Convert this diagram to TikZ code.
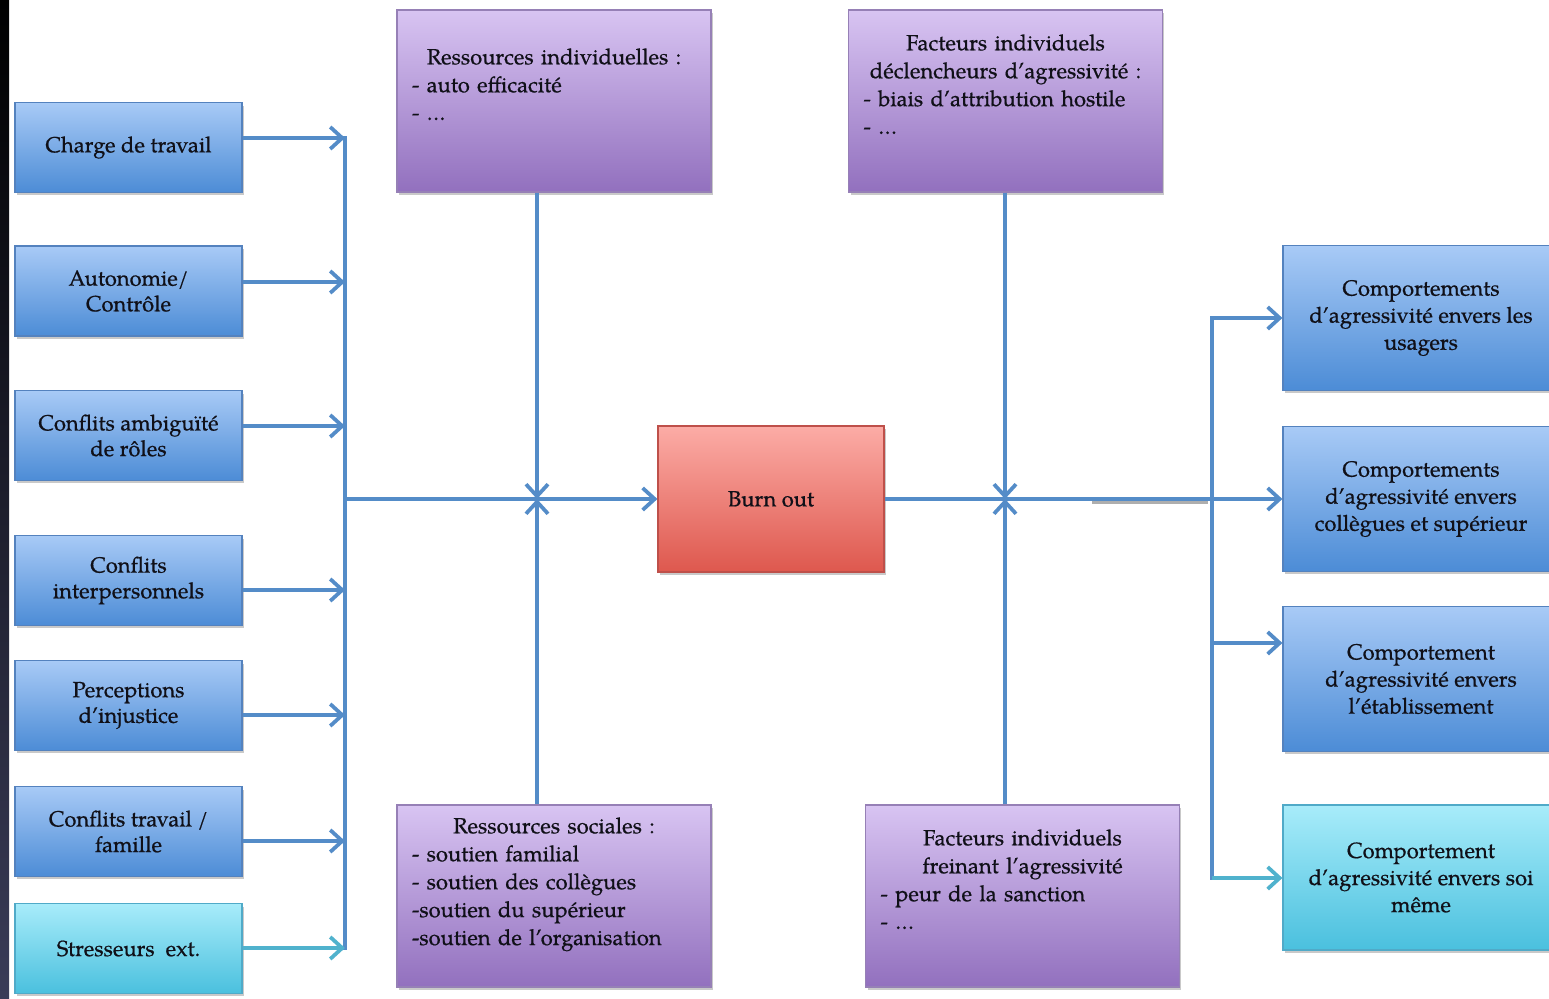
\documentclass[tikz,border=0pt]{standalone}
\usepackage{fontspec}
\setmainfont{TeX Gyre Pagella}[FakeBold=0.6]
\usetikzlibrary{arrows.meta,shadows}
\definecolor{linec}{RGB}{84,140,200}
\definecolor{cyanline}{RGB}{80,178,205}
\definecolor{txt}{RGB}{16,16,24}
\definecolor{bluetop}{RGB}{168,202,246}
\definecolor{bluebot}{RGB}{76,140,214}
\definecolor{bluedraw}{RGB}{84,130,190}
\definecolor{purptop}{RGB}{216,196,242}
\definecolor{purpbot}{RGB}{146,112,190}
\definecolor{purpdraw}{RGB}{150,128,182}
\definecolor{redtop}{RGB}{252,172,166}
\definecolor{redbot}{RGB}{222,88,78}
\definecolor{reddraw}{RGB}{190,80,74}
\definecolor{cyantop}{RGB}{168,236,250}
\definecolor{cyanbot}{RGB}{74,192,222}
\definecolor{cyandraw}{RGB}{80,170,200}
\definecolor{stripbot}{RGB}{58,60,88}
\tikzset{
  basebox/.style={rectangle, inner sep=0pt, align=center, text=txt, line width=0.7pt,
    drop shadow={shadow xshift=0.04cm, shadow yshift=-0.06cm, opacity=0.35, fill=black!60}},
  bluebox/.style={basebox, draw=bluedraw, top color=bluetop, bottom color=bluebot},
  cyanbox/.style={basebox, draw=cyandraw, top color=cyantop, bottom color=cyanbot},
  purplebox/.style={basebox, draw=purpdraw, top color=purptop, bottom color=purpbot},
  redbox/.style={basebox, draw=reddraw, top color=redtop, bottom color=redbot},
  leftbox/.style={minimum width=4.54cm, minimum height=1.8cm, font=\fontsize{12.5}{14.6}\selectfont},
  rightbox/.style={minimum width=5.52cm, minimum height=2.9cm, font=\fontsize{12.5}{15.4}\selectfont},
  pbox/.style={purplebox, minimum width=6.28cm, minimum height=3.64cm},
  ptext/.style={text width=5.68cm, align=left, inner sep=0pt, anchor=north, text=txt,
    font=\fontsize{12.5}{15.9}\selectfont},
  busline/.style={draw=linec, line width=0.08cm, line cap=rect},
  conn/.style={draw=linec, line width=0.08cm,
    -{Straight Barb[length=0.24cm, width=0.44cm, line width=0.075cm]}},
  cconn/.style={conn, draw=cyanline}
}
\begin{document}
\begin{tikzpicture}[x=0.02cm, y=-0.02cm]
\useasboundingbox (0,0) rectangle (1549,999);
\clip (0,0) rectangle (1549,999);
\fill[white] (0,0) rectangle (1549,999);
\shade[top color=black, bottom color=stripbot] (0,0) rectangle (9,999);

% left boxes
\node[bluebox, leftbox] (L1) at (128.5,147.5) {Charge de travail};
\node[bluebox, leftbox] (L2) at (128.5,291) {Autonomie/\\Contrôle};
\node[bluebox, leftbox] (L3) at (128.5,435.5) {Conflits ambiguïté\\de rôles};
\node[bluebox, leftbox] (L4) at (128.5,580.5) {Conflits\\interpersonnels};
\node[bluebox, leftbox] (L5) at (128.5,705.5) {Perceptions\\d’injustice};
\node[bluebox, leftbox] (L6) at (128.5,831.5) {Conflits travail /\\famille};
\node[cyanbox, leftbox] (L7) at (128.5,948.5) {Stresseurs~ ext.};

% purple boxes
\node[pbox] (P1) at (554,101) {};
\node[ptext] (P1t) at (554,48) {\makebox[5.68cm]{Ressources individuelles :}\\- auto efficacité\\- …};
\node[pbox] (P2) at (1005.5,101) {};
\node[ptext] (P2t) at (1005.5,34) {\makebox[5.68cm]{Facteurs individuels}\\\makebox[5.68cm]{déclencheurs d’agressivité :}\\- biais d’attribution hostile\\- …};
\node[pbox] (P3) at (554,896) {};
\node[ptext] (P3t) at (554,817) {\makebox[5.68cm]{Ressources sociales :}\\- soutien familial\\- soutien des collègues\\-soutien du supérieur\\-soutien de l’organisation};
\node[pbox] (P4) at (1022.5,896) {};
\node[ptext] (P4t) at (1022.5,829) {\makebox[5.68cm]{Facteurs individuels}\\\makebox[5.68cm]{freinant l’agressivité}\\- peur de la sanction\\- …};

% burn out
\node[redbox, minimum width=4.52cm, minimum height=2.92cm, font=\fontsize{12.5}{15}\selectfont] (B) at (771,499) {Burn out};

% right boxes
\node[bluebox, rightbox] (R1) at (1421,318) {Comportements\\d’agressivité envers les\\usagers};
\node[bluebox, rightbox] (R2) at (1421,499) {Comportements\\d’agressivité envers\\collègues et supérieur};
\node[bluebox, rightbox] (R3) at (1421,679) {Comportement\\d’agressivité envers\\l’établissement};
\node[cyanbox, rightbox] (R4) at (1421,877.5) {Comportement\\d’agressivité envers soi\\même};

% left bus
\coordinate (b1) at (345,138);
\coordinate (b2) at (345,282);
\coordinate (b3) at (345,426);
\coordinate (b4) at (345,590);
\coordinate (b5) at (345,715);
\coordinate (b6) at (345,841);
\coordinate (b7) at (345,948);
\coordinate (bm) at (345,499);
\draw[busline] (b1) -- (b7);
\draw[conn] (L1.east |- b1) -- (b1);
\draw[conn] (L2.east |- b2) -- (b2);
\draw[conn] (L3.east |- b3) -- (b3);
\draw[conn] (L4.east |- b4) -- (b4);
\draw[conn] (L5.east |- b5) -- (b5);
\draw[conn] (L6.east |- b6) -- (b6);
\draw[cconn] (L7.east |- b7) -- (b7);

% central axis
\coordinate (j1) at (537,499);
\coordinate (j2) at (1005,499);
\draw[conn] (bm) -- (B.west);
\draw[conn] (P1.south -| j1) -- (j1);
\draw[conn] (P3.north -| j1) -- (j1);
\draw[black!70, opacity=0.45, line width=0.05cm] (1092,502.5) -- (1208,502.5);
\draw[conn] (B.east) -- (R2.west);
\draw[conn] (P2.south -| j2) -- (j2);
\draw[conn] (P4.north -| j2) -- (j2);

% right bus
\coordinate (r1) at (1212,318);
\coordinate (r3) at (1212,643);
\coordinate (r4) at (1212,878);
\draw[busline] (r1) -- (r4);
\draw[conn] (r1) -- (R1.west |- r1);
\draw[conn] (r3) -- (R3.west |- r3);
\draw[cconn] (r4) -- (R4.west |- r4);
\end{tikzpicture}
\end{document}
